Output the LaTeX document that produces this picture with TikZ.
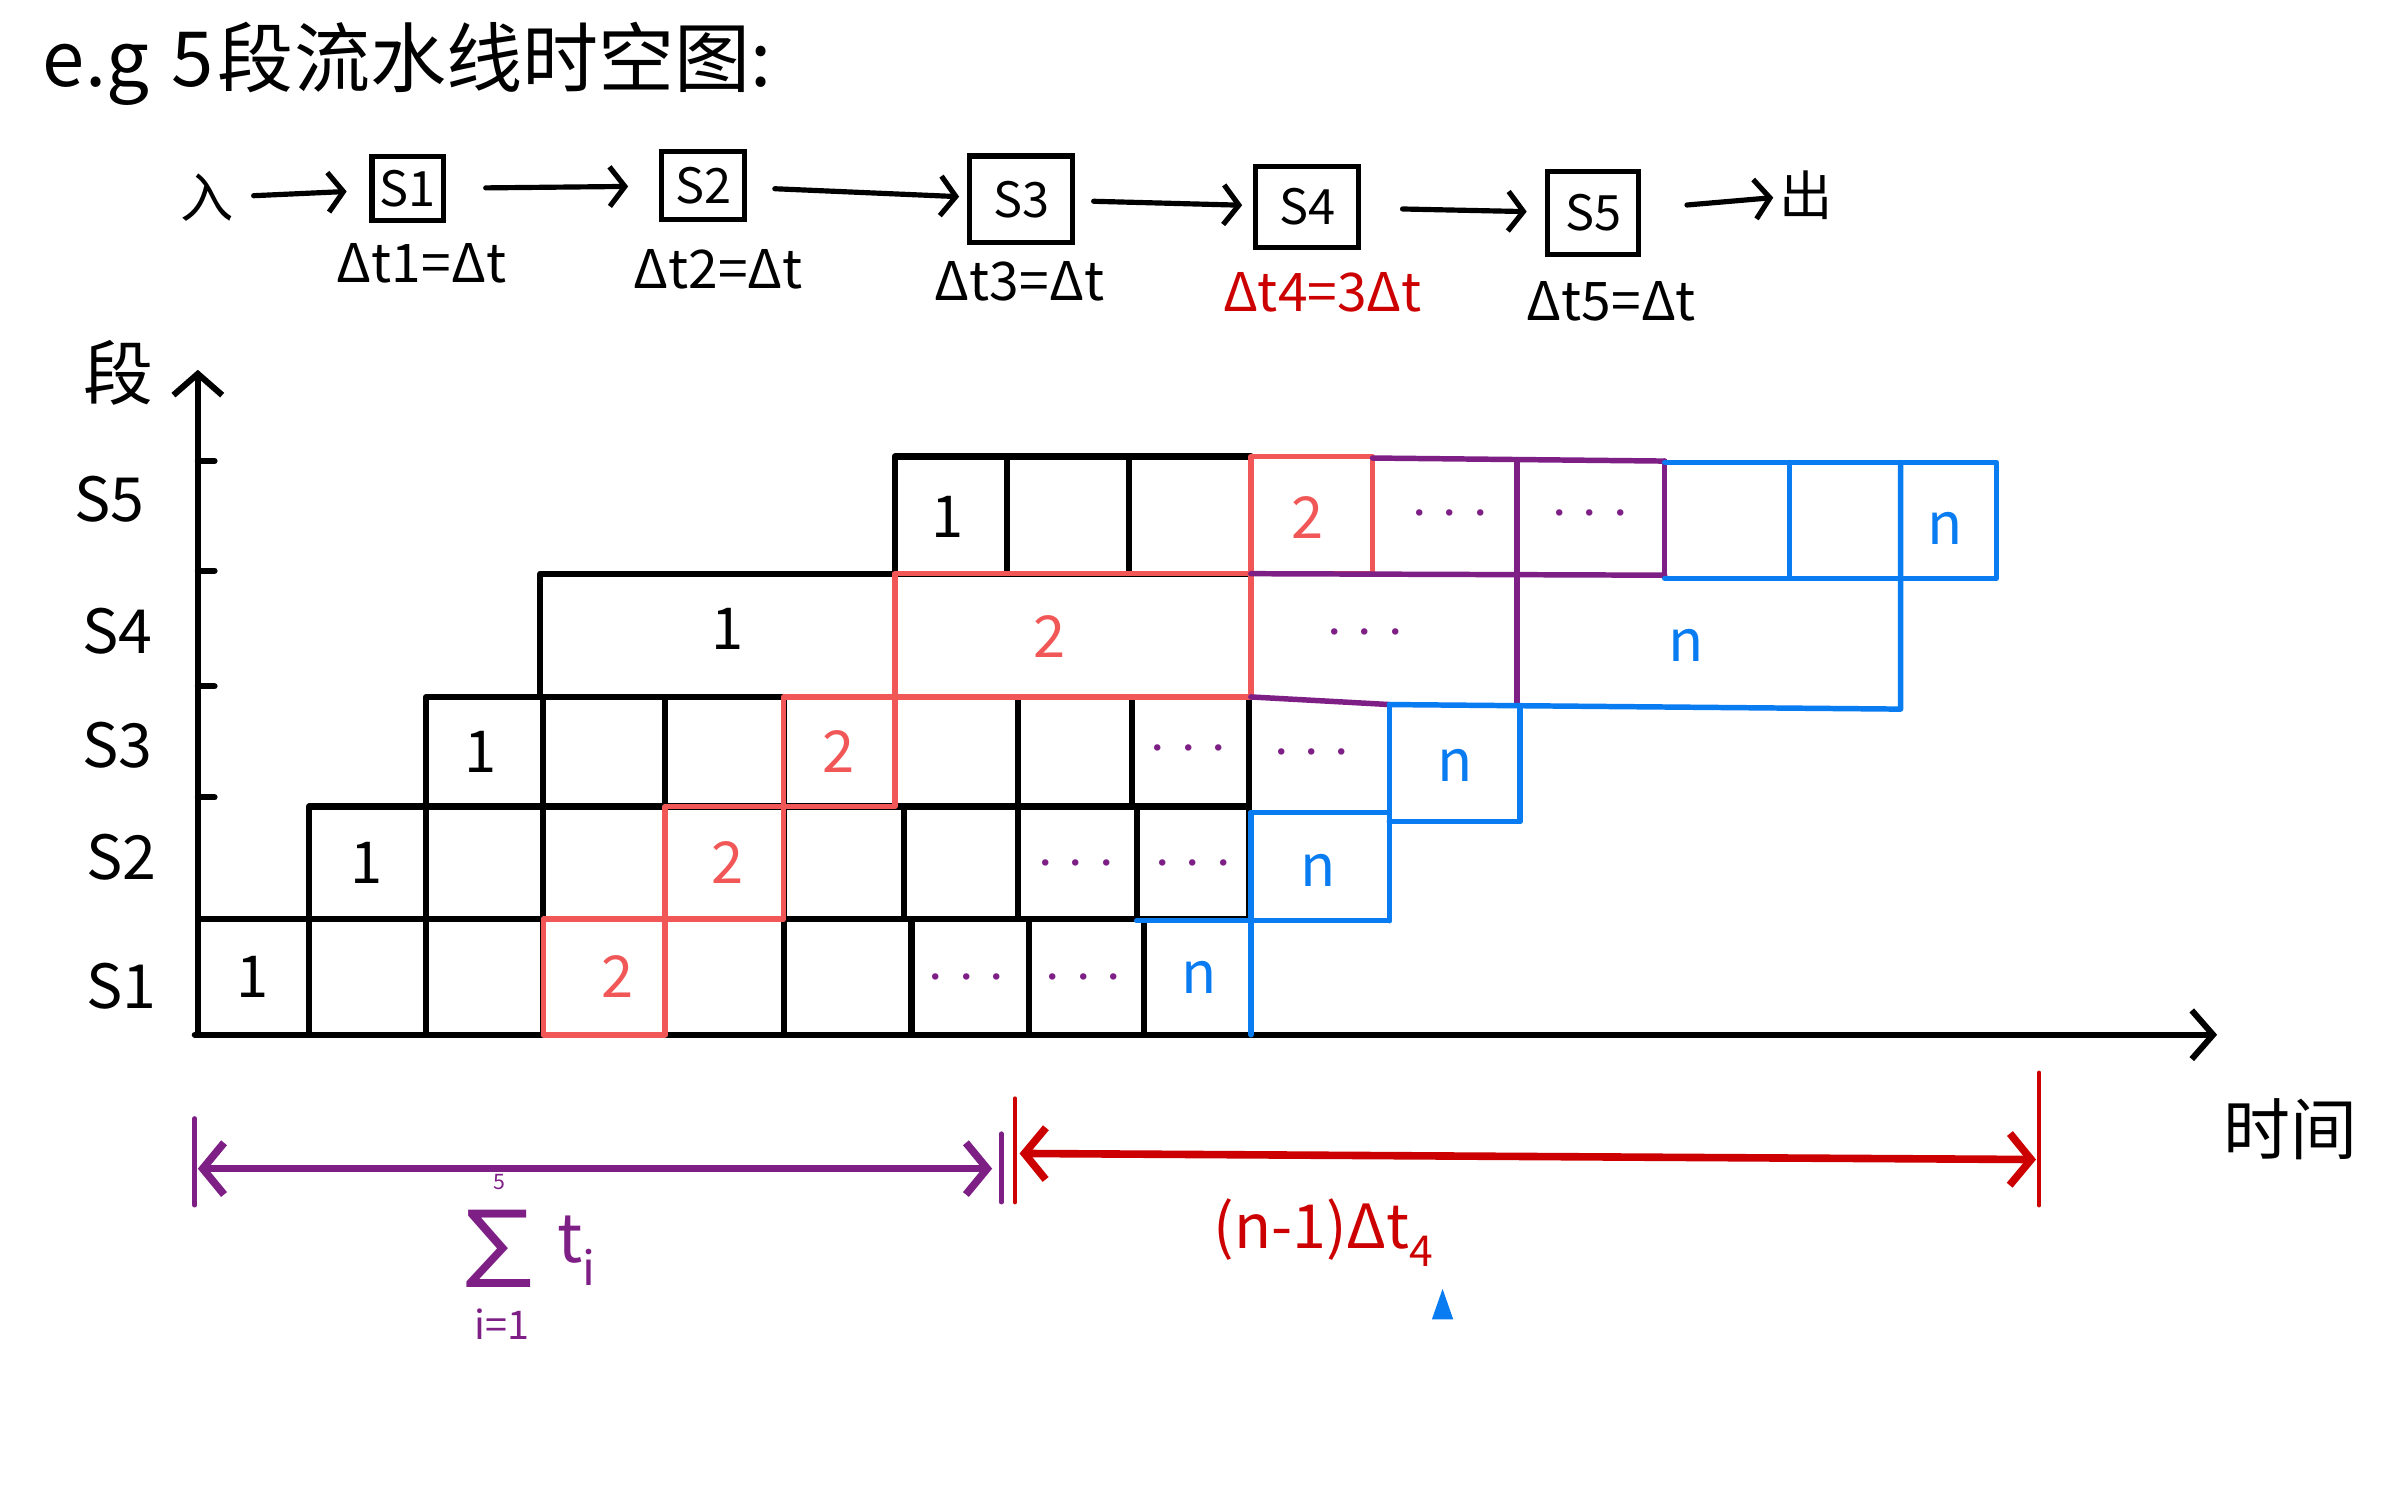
\documentclass[tikz,border=0pt]{standalone}
\usepackage{fontspec}
\setmainfont{Noto Sans CJK SC}
\usetikzlibrary{arrows.meta}
\definecolor{hred}{HTML}{F25757}
\definecolor{dred}{HTML}{CC0000}
\definecolor{hpur}{HTML}{7E1F86}
\definecolor{hblue}{HTML}{0A7CF2}
\begin{document}
\begin{tikzpicture}[x=1pt,y=-1pt,
  kl/.style={draw=black,line width=4pt,line join=round,line cap=round},
  rd/.style={draw=hred,line width=3.6pt,line join=round,line cap=round},
  pu/.style={draw=hpur,line width=3.6pt,line join=round,line cap=round},
  bl/.style={draw=hblue,line width=3.6pt,line join=round,line cap=round},
  ax/.style={draw=black,line width=4pt,line cap=round,-{Straight Barb[length=14pt,width=32pt]}},
  harr/.style={line width=3.4pt,line cap=round,-{Straight Barb[length=10pt,width=26pt]}},
  barr/.style={line width=5pt,line cap=round,{Straight Barb[length=14pt,width=34pt]}-{Straight Barb[length=14pt,width=34pt]}},
  bar/.style={line width=3pt,line cap=round},
  txt/.style={inner sep=0pt,font=\fontsize{35}{37}\selectfont},
  rowl/.style={inner sep=0pt,font=\fontsize{40}{44}\selectfont},
  num/.style={inner sep=0pt,font=\fontsize{38}{40}\selectfont},
  dts/.style={inner sep=0pt,text=hpur,font=\fontsize{20}{22}\selectfont},
  sbox/.style={draw,line width=3.4pt,inner sep=0pt,font=\fontsize{32}{34}\selectfont},
]
\useasboundingbox[fill=white] (0,0) rectangle (1568,980);

% title
\node[anchor=west,inner sep=0pt,font=\fontsize{50}{54}\selectfont] (title) at (28,42) {e.g\hspace{0.3em}5\hspace{0.05em}段流水线时空图:};

% top pipeline
\node[txt] (in) at (136,130) {入};
\node[sbox,minimum width=47pt,minimum height=42pt] (s1) at (268,124) {S1};
\node[sbox,minimum width=55pt,minimum height=45pt] (s2) at (462,122) {S2};
\node[sbox,minimum width=68pt,minimum height=57pt] (s3) at (671,131) {S3};
\node[sbox,minimum width=68pt,minimum height=53pt] (s4) at (859,136) {S4};
\node[sbox,minimum width=60pt,minimum height=55pt] (s5) at (1047,140) {S5};
\node[txt] (out) at (1187,128) {出};
\draw[harr,shorten <=13pt,shorten >=15pt] (in) -- (s1);
\draw[harr,shorten <=26pt,shorten >=20pt] (s1) -- (s2);
\draw[harr,shorten <=18pt,shorten >=5pt] (s2) -- (s3);
\draw[harr,shorten <=12pt,shorten >=7pt] (s3) -- (s4);
\draw[harr,shorten <=27pt,shorten >=12pt] (s4) -- (s5);
\draw[harr,shorten <=30pt,shorten >=4pt] (s5) -- (out);
\node[txt] (l1) at (277,173) {Δt1=Δt};
\node[txt] (l2) at (472,177) {Δt2=Δt};
\node[txt] (l3) at (670,185) {Δt3=Δt};
\node[txt,text=dred] (l4) at (869,192) {Δt4=3Δt};
\node[txt] (l5) at (1059,198) {Δt5=Δt};

% axes
\coordinate (O) at (130,680);
\coordinate (ytop) at (130,243);
\coordinate (xend) at (1457,680);
\coordinate (xst) at (128,680);
\draw[ax] (O) -- (ytop);
\draw[ax] (xst) -- (xend);
\foreach \yy in {303,375,451,524} \draw[kl] (130,\yy) -- (141,\yy);
\node[inner sep=0pt,font=\fontsize{46}{50}\selectfont] (dlab) at (78,245) {段};
\node[inner sep=0pt,font=\fontsize{44}{48}\selectfont] (tlab) at (1505,742) {时间};
\node[rowl] (r5) at (72,328) {S5};
\node[rowl] (r4) at (77,415) {S4};
\node[rowl] (r3) at (77,490) {S3};
\node[rowl] (r2) at (80,563) {S2};
\node[rowl] (r1) at (80,648) {S1};

% black cells
\foreach \a/\b in {130/203,203/280,280/357,437/515,515/599,599/676,676/752}
  \draw[kl] (\a,604) rectangle (\b,680);
\foreach \a/\b in {203/280,280/357,357/437,515/594,594/669,669/747,747/821}
  \draw[kl] (\a,530) rectangle (\b,604);
\foreach \a/\b in {280/357,357/437,437/515,588/669,669/744,744/821}
  \draw[kl] (\a,458) rectangle (\b,530);
\draw[kl] (355,377) rectangle (588,458);
\foreach \a/\b in {588/662,662/742,742/822}
  \draw[kl] (\a,300) rectangle (\b,377);

% red cells
\draw[rd] (357,604) rectangle (437,680);
\draw[rd] (437,530) rectangle (515,604);
\draw[rd] (515,458) rectangle (588,530);
\draw[rd] (588,377) rectangle (822,458);
\draw[rd] (822,300) rectangle (902,377);

% purple lines
\draw[pu] (822,377) -- (1094,378);
\draw[pu] (902,301) -- (1094,303);
\draw[pu] (997,302) -- (997,462);
\draw[pu] (1094,303) -- (1094,378);
\draw[pu] (822,458) -- (913,463);

% blue lines
\draw[bl] (1094,304) -- (1312,304) -- (1312,380) -- (1094,380);
\draw[bl] (1176,304) -- (1176,380);
\draw[bl] (1249,304) -- (1249,466) -- (913,463);
\draw[bl] (913,463) -- (913,605);
\draw[bl] (913,540) -- (999,540) -- (999,464);
\draw[bl] (822,534) -- (913,534);
\draw[bl] (822,534) -- (822,680);
\draw[bl] (747,605) -- (913,605);

% cell texts
\node[num] (a1) at (166,642) {1};
\node[num] (a2) at (241,567) {1};
\node[num] (a3) at (316,494) {1};
\node[num] (a4) at (478,413) {1};
\node[num] (a5) at (623,340) {1};
\node[num,text=hred] (b1) at (406,642) {2};
\node[num,text=hred] (b2) at (478,567) {2};
\node[num,text=hred] (b3) at (551,494) {2};
\node[num,text=hred] (b4) at (690,418) {2};
\node[num,text=hred] (b5) at (859,340) {2};
\node[dts] (d1) at (635,645) {···};
\node[dts] (d2) at (712,645) {···};
\node[dts] (d3) at (707,570) {···};
\node[dts] (d4) at (784,570) {···};
\node[dts] (d5) at (781,494) {···};
\node[dts] (d6) at (862,497) {···};
\node[dts] (d7) at (897,418) {···};
\node[dts] (d8) at (953,340) {···};
\node[dts] (d9) at (1045,340) {···};
\node[num,text=hblue] (n1) at (788,642) {n};
\node[num,text=hblue] (n2) at (866,572) {n};
\node[num,text=hblue] (n3) at (956,503) {n};
\node[num,text=hblue] (n4) at (1108,424) {n};
\node[num,text=hblue] (n5) at (1278,347) {n};

% bottom dimension arrows
\coordinate (pl) at (130,768);
\coordinate (pr) at (652,768);
\coordinate (plt) at (128,735);
\coordinate (plb) at (128,792);
\coordinate (prt) at (658,745);
\coordinate (prb) at (658,790);
\draw[hpur,barr] (pl) -- (pr);
\draw[hpur,bar] (plt) -- (plb);
\draw[hpur,bar] (prt) -- (prb);
\coordinate (rl) at (670,758);
\coordinate (rr) at (1338,762);
\coordinate (rlt) at (667,722);
\coordinate (rlb) at (667,790);
\coordinate (rrt) at (1340,705);
\coordinate (rrb) at (1340,792);
\draw[dred,barr] (rl) -- (rr);
\draw[dred,bar] (rlt) -- (rlb);
\draw[dred,bar] (rrt) -- (rrb);
\node[text=hpur,inner sep=0pt,font=\fontsize{70}{72}\selectfont,anchor=base,text height=51pt,text depth=0pt] (sig) at (328,846) {∑};
\node[text=hpur,inner sep=0pt,font=\fontsize{14}{15}\selectfont,anchor=base,text depth=0pt] (sup) at (328,782) {5};
\node[text=hpur,inner sep=0pt,font=\fontsize{26}{28}\selectfont] (sub) at (330,870) {i=1};
\node[text=hpur,inner sep=0pt,font=\fontsize{44}{46}\selectfont,anchor=west] (ti) at (366,822) {t\textsubscript{i}};
\node[text=dred,inner sep=0pt,font=\fontsize{40}{44}\selectfont] (nd) at (870,810) {(n-1)Δt\textsubscript{4}};
\fill[hblue] (948,847) -- (941,867) -- (955,867) -- cycle;
\end{tikzpicture}
\end{document}
